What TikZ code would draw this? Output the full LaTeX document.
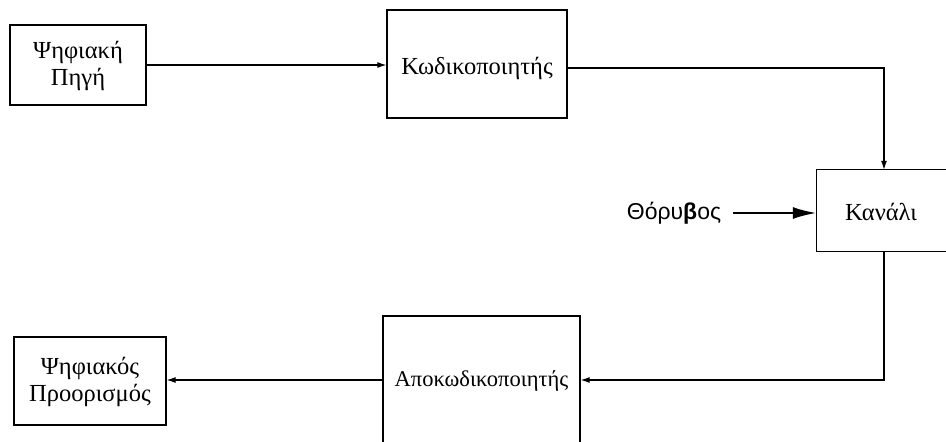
\documentclass[tikz,border=0pt]{standalone}
\usepackage{fontspec}
\setmainfont{Liberation Serif}
\newfontfamily\noisefont{Liberation Sans}
\usetikzlibrary{arrows.meta}
\begin{document}
\begin{tikzpicture}[x=1pt,y=-1pt,
  box/.style={draw, line width=1.3pt, rectangle, inner sep=0pt},
  lbl/.style={font=\fontsize{24.5}{27}\selectfont, align=center, inner sep=0pt},
  conn/.style={line width=1.1pt, -{Latex[length=9pt,width=6pt]}},
  noisearrow/.style={line width=2.6pt, -{Latex[length=24pt,width=12pt]}}]
\useasboundingbox (0,0) rectangle (946,442);
\clip (0,0) rectangle (946,442);
% boxes
\node[box, minimum width=136pt, minimum height=80pt] (src) at (78,65) {};
\node[lbl] (srctxt) at (78,66) {Ψηφιακή\\Πηγή};
\node[box, minimum width=180pt, minimum height=108pt] (enc) at (477,64) {};
\node[lbl] (enctxt) at (477,68) {Κωδικοποιητής};
\node[rectangle, inner sep=0pt, minimum width=260pt, minimum height=81pt] (canal) at (947,210.5) {};
\draw[line width=1.3pt] (canal.north east) -- (canal.north west) -- (canal.south west) -- (canal.south east);
\node[lbl] (canaltxt) at (881,212) {Κανάλι};
\node[box, minimum width=197pt, minimum height=160pt] (apok) at (481.5,396) {};
\node[lbl, font=\fontsize{22.5}{27}\selectfont] (apoktxt) at (481.5,381) {Αποκωδικοποιητής};
\node[box, minimum width=152pt, minimum height=88pt] (dest) at (90,381) {};
\node[lbl] (desttxt) at (90,382) {Ψηφιακός\\Προορισμός};
\node[font=\noisefont\fontsize{23}{26}\selectfont, inner sep=0pt] (noise) at (674,213) {Θόρυ\textbf{β}ος};
\coordinate (chan) at (884,210);
% connectors
\draw[conn] (src.east) -- (src.east -| enc.west);
\draw[conn] (enc.east |- 0,68) -| (chan |- canal.north);
\draw[conn] (chan |- canal.south) |- (apok.east |- 0,380);
\draw[conn] (apok.west |- 0,380) -- (dest.east |- 0,380);
\draw[noisearrow] ([xshift=12pt]noise.east) -- (noise.east -| canal.west);
\end{tikzpicture}
\end{document}
